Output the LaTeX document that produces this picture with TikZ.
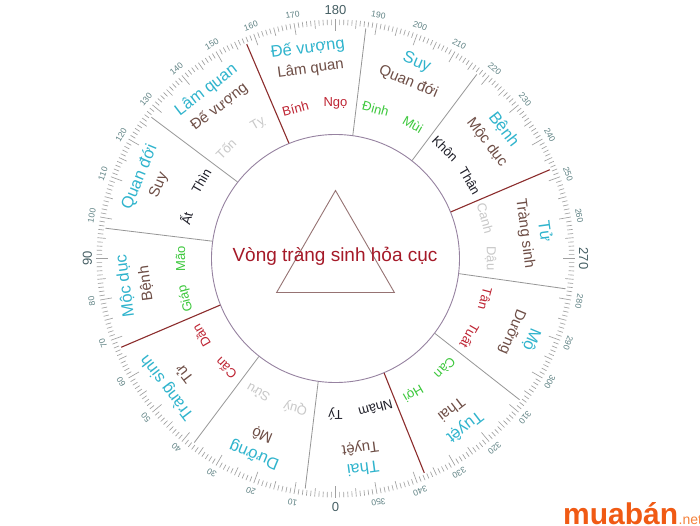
\documentclass[tikz,border=0pt]{standalone}
\usepackage{fontspec}
\setmainfont{Liberation Sans}
\definecolor{cyanC}{RGB}{48,180,205}
\definecolor{brownC}{RGB}{110,78,70}
\definecolor{mred}{RGB}{190,35,50}
\definecolor{mgreen}{RGB}{60,200,60}
\definecolor{mblack}{RGB}{30,30,40}
\definecolor{mgray}{RGB}{200,200,200}
\definecolor{titleC}{RGB}{165,25,40}
\definecolor{tickC}{RGB}{95,130,132}
\definecolor{bigC}{RGB}{70,95,100}
\definecolor{lineC}{RGB}{150,150,150}
\definecolor{redlineC}{RGB}{140,45,45}
\definecolor{circC}{RGB}{150,130,160}
\definecolor{triC}{RGB}{150,115,115}
\definecolor{tickLine}{RGB}{160,160,160}
\definecolor{orangeC}{RGB}{240,90,20}
\definecolor{orangeL}{RGB}{245,130,60}
\begin{document}
\begin{tikzpicture}[x=1pt,y=1pt,
  cyanlbl/.style={text=cyanC, font=\fontsize{16.5}{18}\selectfont, inner sep=0pt},
  brownlbl/.style={text=brownC, font=\fontsize{15}{17}\selectfont, inner sep=0pt},
  mtn/.style={font=\fontsize{13}{15}\selectfont, inner sep=0pt},
  ticklbl/.style={text=tickC, font=\fontsize{8.5}{9.5}\selectfont, inner sep=0pt},
  biglbl/.style={text=bigC, font=\fontsize{13}{15}\selectfont, inner sep=0pt},
  sectorline/.style={draw=lineC, line width=0.8pt},
  redline/.style={draw=redlineC, line width=1.1pt},
  tickmark/.style={draw=tickLine, line width=0.65pt},
]
\useasboundingbox (-335.5,-266.5) rectangle (364.5,258.5);
\fill[white] (-335.5,-266.5) rectangle (364.5,258.5);

% degree ticks
\foreach \d in {0,...,359}{
  \pgfmathsetmacro\a{270-\d}
  \pgfmathsetmacro\len{mod(\d,10)==0 ? 12 : (mod(\d,5)==0 ? 8.5 : 5.5)}
  \draw[tickmark] (\a:239) -- (\a:{239-\len});
}
% small degree numbers
\foreach \d in {10,20,30,40,50,60,70,80,100,110,120,130,140,150,160,170,190,200,210,220,230,240,250,260,280,290,300,310,320,330,340,350}{
  \pgfmathsetmacro\a{270-\d}
  \node[ticklbl, rotate=\a-90] (t\d) at (\a:247.5) {\d};
}
% big degree numbers
\foreach \d in {0,90,180,270}{
  \pgfmathsetmacro\a{270-\d}
  \node[biglbl, rotate=\a-90] (T\d) at (\a:248) {\d};
}

% inner circle
\node[circle, draw=circC, line width=0.9pt, minimum size=248pt, inner sep=0pt] (hub) at (0,0) {};

% sector boundary lines
\foreach \d [count=\k] in {7.5,37.5,97.5,127.5,187.5,217.5,277.5,307.5}{
  \pgfmathsetmacro\a{270-\d}
  \coordinate (og\k) at (\a:232);
  \draw[sectorline] (hub.\a) -- (og\k);
}
\foreach \d [count=\k] in {67.5,157.5,247.5,337.5}{
  \pgfmathsetmacro\a{270-\d}
  \coordinate (or\k) at (\a:232);
  \draw[redline] (hub.\a) -- (or\k);
}

% sector labels
\foreach \d/\cy/\br [count=\i] in {
  172.5/Đế vượng/Lâm quan, 202.5/Suy/Quan đới, 232.5/Bệnh/Mộc dục,
  262.5/Tử/Tràng sinh, 292.5/Mộ/Dưỡng, 322.5/Tuyệt/Thai,
  352.5/Thai/Tuyệt, 22.5/Dưỡng/Mộ, 52.5/Tràng sinh/Tử,
  82.5/Mộc dục/Bệnh, 112.5/Quan đới/Suy, 142.5/Lâm quan/Đế vượng}{
  \pgfmathsetmacro\a{270-\d}
  \node[cyanlbl, rotate=\a-90] (c\i) at (\a:212) {\cy};
  \node[brownlbl, rotate=\a-90] (b\i) at (\a:191) {\br};
}

% 24 mountains
\foreach \d/\nm/\col in {
  0/Tý/mblack, 15/Quý/mgray, 30/Sửu/mgray, 45/Cấn/mred, 60/Dần/mred,
  75/Giáp/mgreen, 90/Mão/mgreen, 105/Ất/mblack, 120/Thìn/mblack,
  135/Tốn/mgray, 150/Tỵ/mgray, 165/Bính/mred, 180/Ngọ/mred,
  195/Đinh/mgreen, 210/Mùi/mgreen, 225/Khôn/mblack, 240/Thân/mblack,
  255/Canh/mgray, 270/Dậu/mgray, 285/Tân/mred, 300/Tuất/mred,
  315/Càn/mgreen, 330/Hợi/mgreen, 345/Nhâm/mblack}{
  \pgfmathsetmacro\a{270-\d}
  \node[mtn, text=\col, rotate=\a-90] (m\d) at (\a:155) {\nm};
}

% triangle and title
\coordinate (tA) at (90:68);
\coordinate (tB) at (210:68);
\coordinate (tC) at (330:68);
\draw[triC, line width=0.9pt] (tA) -- (tB) -- (tC) -- cycle;
\node[anchor=base, text=titleC, font=\fontsize{19}{21}\selectfont, inner sep=0pt] (title) at (-0.5,-3.2) {Vòng tràng sinh hỏa cục};

% watermark
\node[anchor=base west, inner sep=0pt, text=orangeC, font=\bfseries\fontsize{30}{32}\selectfont] (wm) at (227.5,-265.5) {muabán};
\node[anchor=base west, inner sep=0pt, text=orangeL, font=\fontsize{14}{16}\selectfont] (wmnet) at (wm.base east) {.net};
\end{tikzpicture}
\end{document}
